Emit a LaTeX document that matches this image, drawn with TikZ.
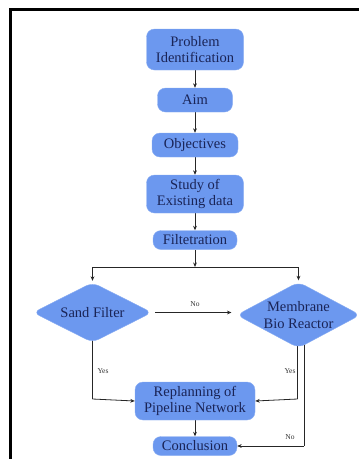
\documentclass[tikz,border=0pt]{standalone}
\usepackage{fontspec}
\setmainfont{Liberation Serif}
\usetikzlibrary{shapes.geometric,arrows.meta,backgrounds}
\definecolor{boxblue}{HTML}{6C98EF}
\definecolor{boxtext}{HTML}{1A2456}
\begin{document}
\begin{tikzpicture}[x=1pt,y=-1pt,
  stepbox/.style={rectangle,rounded corners=8pt,fill=boxblue,draw=boxblue!80!white,line width=0.4pt,
    text=boxtext,font=\fontsize{14.5}{16.8}\selectfont,align=center,inner sep=0pt},
  decision/.style={diamond,rounded corners=7pt,fill=boxblue,draw=boxblue!80!white,line width=0.4pt,
    text=boxtext,font=\fontsize{14.5}{16.8}\selectfont,align=center,inner sep=0pt,aspect=2},
  conn/.style={line width=0.8pt,draw=black!85},
  arr/.style={conn,-{Stealth[length=4.5pt,width=3.8pt]}},
  lbl/.style={font=\fontsize{7.5}{9}\selectfont,text=black!80,inner sep=0pt}]
\useasboundingbox (0,0) rectangle (359,459);
\draw[line width=3pt,line cap=rect] (10.5,459) -- (10.5,9) -- (359,9);

\node[stepbox,minimum width=97pt,minimum height=41pt] (prob) at (195,49.5) {Problem\\Identification};
\node[stepbox,minimum width=75pt,minimum height=24pt] (aim) at (195,100) {Aim};
\node[stepbox,minimum width=86pt,minimum height=24pt] (obj) at (195,145) {Objectives};
\node[stepbox,minimum width=97pt,minimum height=38pt] (study) at (195,194) {Study of\\Existing data};
\node[stepbox,minimum width=84pt,minimum height=19pt] (filt) at (195,240) {Filtetration};
\node[decision,minimum width=119pt,minimum height=60pt] (sand) at (92.5,312.5) {Sand Filter};
\node[decision,minimum width=112pt,minimum height=66pt] (mbr) at (298.5,315) {Membrane\\Bio Reactor};
\node[stepbox,minimum width=120pt,minimum height=38pt] (rep) at (195,401) {Replanning of\\Pipeline Network};
\node[stepbox,minimum width=84pt,minimum height=19pt] (conc) at (195,446) {Conclusion};

\coordinate (j) at (195,267);
\coordinate (ls) at (92.5,399);
\coordinate (rs) at (297.5,399);
\coordinate (rc) at (304,446);

\node[lbl] (no1) at (195,304) {No};
\node[lbl] (yes1) at (103,371) {Yes};
\node[lbl] (yes2) at (290,371) {Yes};
\node[lbl] (no2) at (290,437) {No};

\begin{scope}[on background layer]
\draw[arr] (prob.south) -- (aim.north);
\draw[arr] (aim.south) -- (obj.north);
\draw[arr] (obj.south) -- (study.north);
\draw[arr] (study.south) -- (filt.north);
\draw[arr] (filt.south) -- (j);
\draw[arr] (j) -| ([yshift=1.5pt]sand.north);
\draw[arr] (j) -| ([yshift=1.5pt]mbr.north);
\draw[arr,shorten <=3pt,shorten >=5pt] (sand.east) -- (sand.east -| mbr.west);
\draw[conn] (sand.center) -- (ls);
\draw[arr] (ls) -- (rep.west);
\draw[conn] ([xshift=-1pt]mbr.center) -- (rs);
\draw[arr] (rs) -- (rep.east);
\draw[conn] (mbr.center -| rc) -- (rc);
\draw[arr] (rc) -- (conc.east);
\draw[arr] (rep.south) -- (conc.north);
\end{scope}
\end{tikzpicture}
\end{document}
